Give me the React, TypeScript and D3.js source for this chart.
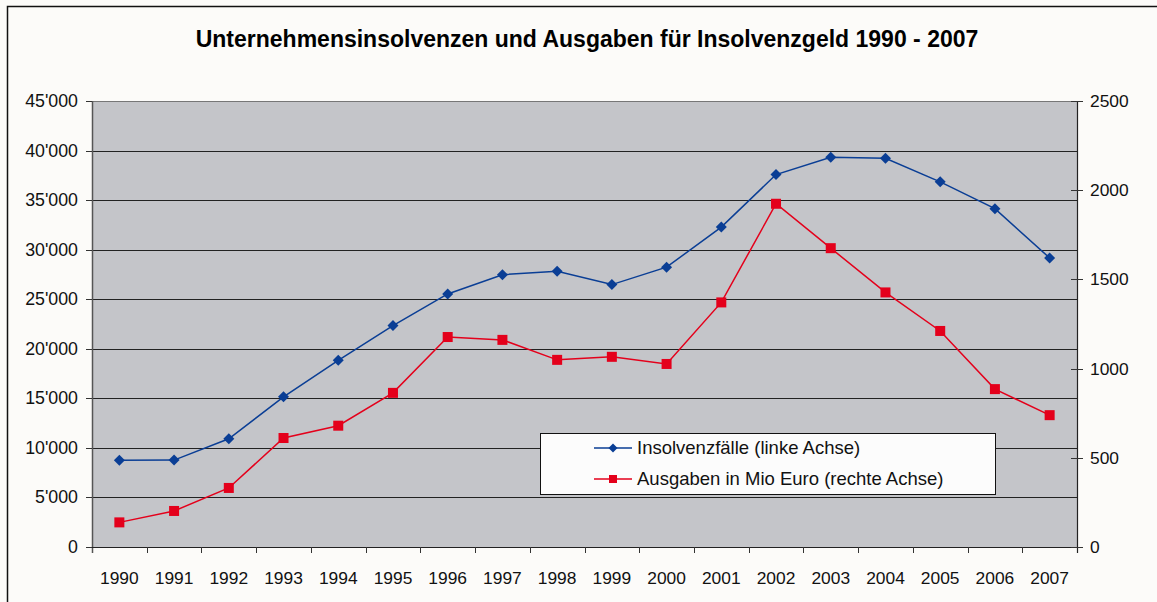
import React from 'react';
import * as d3 from 'd3';

const years = ['1990','1991','1992','1993','1994','1995','1996','1997','1998','1999','2000','2001','2002','2003','2004','2005','2006','2007'];
const insolvenzen = [8760, 8770, 10920, 15148, 18837, 22344, 25530, 27474, 27828, 26476, 28235, 32278, 37579, 39320, 39213, 36843, 34137, 29160];
const ausgaben = [138, 202, 331, 611, 680, 864, 1177, 1161, 1049, 1066, 1026, 1371, 1924, 1675, 1427, 1211, 885, 739];
const leftTicks = [0, 5000, 10000, 15000, 20000, 25000, 30000, 35000, 40000, 45000];
const rightTicks = [0, 500, 1000, 1500, 2000, 2500];

const W = 1157;
const H = 602;
const plot = { left: 92, right: 1077, top: 101, bottom: 547 };
const font = 'Arial, "Liberation Sans", sans-serif';

const App = () => {
  const x = d3.scaleBand().domain(years).range([plot.left, plot.right]);
  const yL = d3.scaleLinear().domain([0, 45000]).range([plot.bottom, plot.top]);
  const yR = d3.scaleLinear().domain([0, 2500]).range([plot.bottom, plot.top]);
  const cx = (d: string) => (x(d) || 0) + x.bandwidth() / 2;
  const fmt = (v: number) => (v === 0 ? '0' : d3.format(',')(v).replace(/,/g, "'"));

  const lineL = d3.line<number>().x((_, i) => cx(years[i])).y(d => yL(d));
  const lineR = d3.line<number>().x((_, i) => cx(years[i])).y(d => yR(d));

  const blue = '#0a3e95';
  const red = '#e4001b';
  const diamond = (px: number, py: number, r: number) =>
    `M${px},${py - r}L${px + r},${py}L${px},${py + r}L${px - r},${py}Z`;

  const legend = { x: 540, y: 433, w: 455, h: 61 };

  return (
    <svg width={W} height={H} style={{ position: 'absolute', left: 0, top: 0 }} fontFamily={font}>
      <rect x={0} y={0} width={W} height={H} fill="#fcfbf9" />
      <rect x={7.5} y={6.5} width={W + 10} height={H + 10} fill="none" stroke="#111" strokeWidth={1.5} />
      <text x={587} y={47} textAnchor="middle" fontSize={23} fontWeight="bold" fill="#000">
        Unternehmensinsolvenzen und Ausgaben für Insolvenzgeld 1990 - 2007
      </text>

      <rect x={plot.left} y={plot.top} width={plot.right - plot.left} height={plot.bottom - plot.top} fill="#c4c5c9" />
      {leftTicks.slice(1).map(t => (
        <line key={t} x1={plot.left} x2={plot.right} y1={Math.round(yL(t)) + 0.5} y2={Math.round(yL(t)) + 0.5}
          stroke={t === 45000 ? '#777' : '#222'} strokeWidth={1} />
      ))}

      {/* left axis */}
      <line x1={plot.left + 0.5} x2={plot.left + 0.5} y1={plot.top} y2={plot.bottom + 6} stroke="#555" strokeWidth={1.5} />
      {leftTicks.map(t => (
        <g key={t}>
          <line x1={plot.left - 6} x2={plot.left} y1={Math.round(yL(t)) + 0.5} y2={Math.round(yL(t)) + 0.5} stroke="#333" />
          <text x={78} y={yL(t) + 6} textAnchor="end" fontSize={17.8} fill="#111">{fmt(t)}</text>
        </g>
      ))}

      {/* bottom axis */}
      <line x1={plot.left} x2={plot.right} y1={plot.bottom + 0.5} y2={plot.bottom + 0.5} stroke="#222" strokeWidth={1.2} />
      {years.map((yr, i) => (
        <g key={yr}>
          {i > 0 && (
            <line x1={Math.round(x(yr) || 0) + 0.5} x2={Math.round(x(yr) || 0) + 0.5} y1={plot.bottom} y2={plot.bottom + 6} stroke="#333" />
          )}
          <text x={cx(yr)} y={584} textAnchor="middle" fontSize={17.4} fill="#111">{yr}</text>
        </g>
      ))}

      {/* right axis */}
      <line x1={plot.right + 0.5} x2={plot.right + 0.5} y1={plot.top} y2={plot.bottom + 6} stroke="#222" strokeWidth={1.2} />
      {rightTicks.map(t => (
        <g key={t}>
          <line x1={plot.right - 6} x2={plot.right + 6} y1={Math.round(yR(t)) + 0.5} y2={Math.round(yR(t)) + 0.5} stroke="#333" />
          <text x={1090} y={yR(t) + 6} textAnchor="start" fontSize={17.4} fill="#111">{t}</text>
        </g>
      ))}

      {/* series */}
      <path d={lineL(insolvenzen) || ''} fill="none" stroke={blue} strokeWidth={1.5} />
      {insolvenzen.map((v, i) => (
        <path key={i} d={diamond(cx(years[i]), yL(v), 5.5)} fill={blue} />
      ))}
      <path d={lineR(ausgaben) || ''} fill="none" stroke={red} strokeWidth={1.5} />
      {ausgaben.map((v, i) => (
        <rect key={i} x={cx(years[i]) - 5} y={yR(v) - 5} width={10} height={10} fill={red} />
      ))}

      {/* legend */}
      <rect x={legend.x + 0.5} y={legend.y + 0.5} width={legend.w} height={legend.h} fill="#fcfcfc" stroke="#111" strokeWidth={1} />
      <line x1={594} x2={632} y1={448} y2={448} stroke={blue} strokeWidth={1.5} />
      <path d={diamond(613, 448, 4.5)} fill={blue} />
      <text x={637} y={454} fontSize={18.5} fill="#111">Insolvenzfälle (linke Achse)</text>
      <line x1={594} x2={632} y1={479} y2={479} stroke={red} strokeWidth={1.5} />
      <rect x={609} y={475} width={8} height={8} fill={red} />
      <text x={637} y={485} fontSize={18.5} fill="#111">Ausgaben in Mio Euro (rechte Achse)</text>
    </svg>
  );
};

export default App;
